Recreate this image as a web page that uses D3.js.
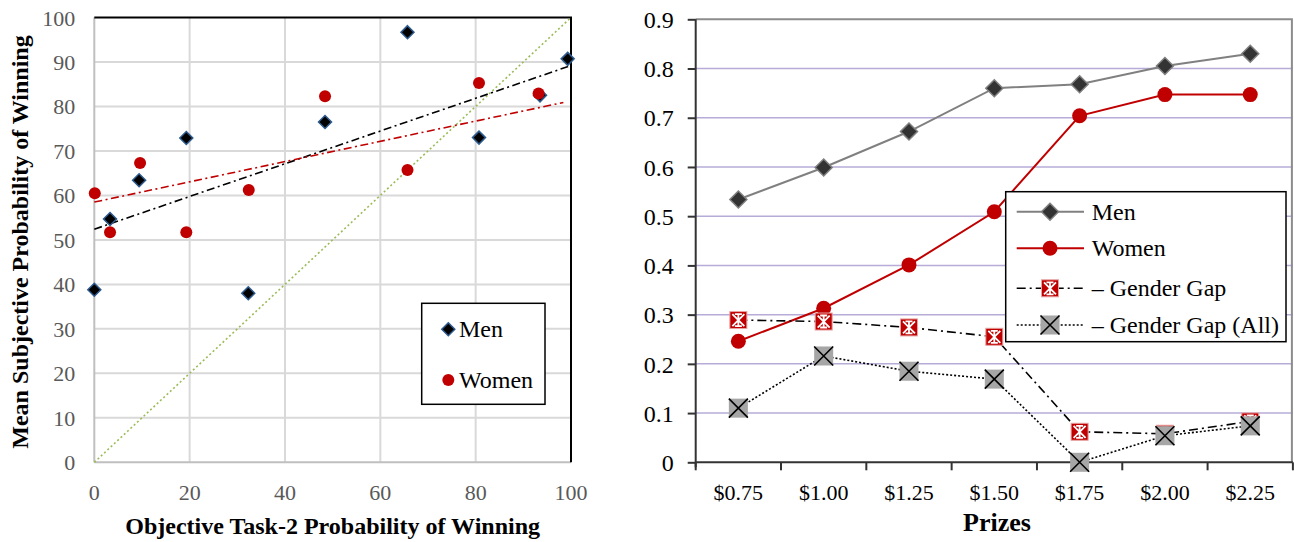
<!DOCTYPE html>
<html>
<head>
<meta charset="utf-8">
<script src="https://cdn.jsdelivr.net/npm/d3@7"></script>
<style>
  html, body { margin: 0; padding: 0; background: #fff; }
  svg text { font-family: "Liberation Serif", "Times New Roman", Times, serif; }
</style>
</head>
<body>
<svg id="chart" width="1294" height="542" font-family="Liberation Serif, Times New Roman, serif"></svg>
<script>
// ---- Left panel: subjective vs objective probability of winning ----
const leftTicks = [0, 10, 20, 30, 40, 50, 60, 70, 80, 90, 100];
const leftXTicks = [0, 20, 40, 60, 80, 100];
const menObjective = [0, 3.3, 9.4, 19.3, 32.3, 48.4, 65.7, 80.7, 93.5, 99.3];
const menSubjective = [38.8, 54.7, 63.4, 72.9, 38.0, 76.5, 96.7, 73.0, 82.5, 90.7];
const womenObjective = [0.1, 3.3, 9.6, 19.3, 32.4, 48.4, 65.7, 80.7, 93.2];
const womenSubjective = [60.5, 51.7, 67.3, 51.7, 61.2, 82.3, 65.7, 85.3, 82.9];
// linear trend lines (start / end)
const menTrendX = [0, 100];
const menTrendY = [52.4, 89.2];
const womenTrendX = [0, 98.4];
const womenTrendY = [58.5, 80.9];
const diagonalX = [0, 100];
const diagonalY = [0, 100];

// ---- Right panel: belief by prize level ----
const prizes = ["$0.75", "$1.00", "$1.25", "$1.50", "$1.75", "$2.00", "$2.25"];
const rightTicks = [0, 0.1, 0.2, 0.3, 0.4, 0.5, 0.6, 0.7, 0.8, 0.9];
const menByPrize = [0.534, 0.599, 0.672, 0.760, 0.768, 0.805, 0.830];
const womenByPrize = [0.246, 0.313, 0.401, 0.509, 0.704, 0.747, 0.747];
const gapByPrize = [0.289, 0.286, 0.274, 0.255, 0.062, 0.058, 0.083];
const gapAllByPrize = [0.110, 0.216, 0.185, 0.169, 0.000, 0.054, 0.074];

const svg = d3.select("#chart");
const RED = "#c00000";
const SERIF = "Liberation Serif, Times New Roman, serif";

// ================= LEFT PANEL =================
const L = { left: 94.3, right: 571, top: 17.5, bottom: 462.3 };
const lx = d3.scaleLinear().domain([0, 100]).range([L.left, L.right]);
const ly = d3.scaleLinear().domain([0, 100]).range([L.bottom, L.top]);
const left = svg.append("g");

// gridlines
left.append("g").selectAll("line").data(leftTicks.filter(d => d > 0 && d < 100)).join("line")
  .attr("x1", L.left).attr("x2", L.right).attr("y1", d => ly(d)).attr("y2", d => ly(d))
  .attr("stroke", "#d9d9d9").attr("stroke-width", 2);
left.append("g").selectAll("line").data(leftXTicks.filter(d => d > 0 && d < 100)).join("line")
  .attr("y1", L.top).attr("y2", L.bottom).attr("x1", d => lx(d)).attr("x2", d => lx(d))
  .attr("stroke", "#d9d9d9").attr("stroke-width", 2);
// frame: grey axes, black top/right border
left.append("line").attr("x1", L.left).attr("x2", L.left).attr("y1", L.top).attr("y2", L.bottom)
  .attr("stroke", "#bfbfbf").attr("stroke-width", 2);
left.append("line").attr("x1", L.left).attr("x2", L.right).attr("y1", L.bottom).attr("y2", L.bottom)
  .attr("stroke", "#bfbfbf").attr("stroke-width", 2);
left.append("line").attr("x1", L.left).attr("x2", L.right + 1).attr("y1", L.top).attr("y2", L.top)
  .attr("stroke", "#000").attr("stroke-width", 2);
left.append("line").attr("x1", L.right).attr("x2", L.right).attr("y1", L.top).attr("y2", L.bottom)
  .attr("stroke", "#000").attr("stroke-width", 2);

// tick labels
left.append("g").selectAll("text").data(leftTicks).join("text")
  .attr("x", L.left - 19).attr("y", d => ly(d) + 8)
  .attr("text-anchor", "end").attr("font-size", 22).attr("fill", "#595959")
  .attr("font-family", SERIF).text(d => d);
left.append("g").selectAll("text").data(leftXTicks).join("text")
  .attr("x", d => lx(d)).attr("y", 500)
  .attr("text-anchor", "middle").attr("font-size", 22).attr("fill", "#595959")
  .attr("font-family", SERIF).text(d => d);

// axis titles
left.append("text").attr("x", (L.left + L.right) / 2).attr("y", 534)
  .attr("text-anchor", "middle").attr("font-size", 24).attr("font-weight", "bold")
  .attr("font-family", SERIF).text("Objective Task-2 Probability of Winning");
left.append("text").attr("transform", "translate(28,242) rotate(-90)")
  .attr("text-anchor", "middle").attr("font-size", 24).attr("font-weight", "bold")
  .attr("font-family", SERIF).text("Mean Subjective Probability of Winning");

// 45-degree reference and trend lines
const lline = d3.line().x(d => lx(d[0])).y(d => ly(d[1]));
left.append("path").attr("d", lline(d3.zip(diagonalX, diagonalY)))
  .attr("fill", "none").attr("stroke", "#9bbb59").attr("stroke-width", 1.6).attr("stroke-dasharray", "2,2.5");
left.append("path").attr("d", lline(d3.zip(menTrendX, menTrendY)))
  .attr("fill", "none").attr("stroke", "#000").attr("stroke-width", 1.6).attr("stroke-dasharray", "8,3.5,2,3.5");
left.append("path").attr("d", lline(d3.zip(womenTrendX, womenTrendY)))
  .attr("fill", "none").attr("stroke", RED).attr("stroke-width", 1.6).attr("stroke-dasharray", "8,3.5,2,3.5");

const diamond = h => `M0,${-h}L${h},0L0,${h}L${-h},0Z`;

// markers
left.append("g").selectAll("path").data(d3.zip(menObjective, menSubjective)).join("path")
  .attr("transform", d => `translate(${lx(d[0])},${ly(d[1])})`)
  .attr("d", diamond(6.5)).attr("fill", "#000").attr("stroke", "#2e5b8f").attr("stroke-width", 1.5);
left.append("g").selectAll("circle").data(d3.zip(womenObjective, womenSubjective)).join("circle")
  .attr("cx", d => lx(d[0])).attr("cy", d => ly(d[1])).attr("r", 6).attr("fill", RED);

// legend
const lleg = left.append("g");
lleg.append("rect").attr("x", 421.7).attr("y", 303.3).attr("width", 123.3).attr("height", 101)
  .attr("fill", "#fff").attr("stroke", "#000").attr("stroke-width", 1.5);
lleg.append("path").attr("transform", "translate(448.3,329.3)").attr("d", diamond(6.5))
  .attr("fill", "#000").attr("stroke", "#2e5b8f").attr("stroke-width", 1.5);
lleg.append("text").attr("x", 459).attr("y", 337).attr("font-size", 24).attr("font-family", SERIF).text("Men");
lleg.append("circle").attr("cx", 448.3).attr("cy", 380).attr("r", 6).attr("fill", RED);
lleg.append("text").attr("x", 459).attr("y", 388).attr("font-size", 24).attr("font-family", SERIF).text("Women");

// ================= RIGHT PANEL =================
const R = { left: 695.7, right: 1292.9, top: 19.3, bottom: 462.3 };
const rx = d3.scaleBand().domain(prizes).range([R.left, R.right]);
const ry = d3.scaleLinear().domain([0, 0.9]).range([R.bottom, R.top]);
const right = svg.append("g");

right.append("g").selectAll("line").data(rightTicks.filter(d => d > 0 && d < 0.85)).join("line")
  .attr("x1", R.left).attr("x2", R.right).attr("y1", d => ry(d)).attr("y2", d => ry(d))
  .attr("stroke", "#b7acd8").attr("stroke-width", 1.5);
// plot-area border (top / right)
right.append("path")
  .attr("d", `M${R.left},${ry(0.9)}H${R.right - 1}V${R.bottom}`)
  .attr("fill", "none").attr("stroke", "#8c8c8c").attr("stroke-width", 2);

// y axis
const yAxis = d3.axisLeft(ry).tickValues(rightTicks).tickSize(8).tickPadding(14)
  .tickFormat(d => d === 0 ? "0" : d3.format(".1f")(d));
const yg = right.append("g").attr("transform", `translate(${R.left},0)`).call(yAxis)
  .attr("font-family", SERIF);
yg.select(".domain").attr("stroke", "#333").attr("stroke-width", 2).attr("d", `M0,${R.top}V${R.bottom + 5}`);
yg.selectAll(".tick line").attr("stroke", "#333").attr("stroke-width", 2);
yg.selectAll(".tick text").attr("font-size", 24).attr("fill", "#000")
  .attr("font-family", SERIF).attr("dy", "0.34em");

// x axis: tick marks on category boundaries
const xg = right.append("g");
xg.append("line").attr("x1", R.left).attr("x2", R.right).attr("y1", R.bottom).attr("y2", R.bottom)
  .attr("stroke", "#333").attr("stroke-width", 2);
const bounds = prizes.map(p => rx(p)).concat([rx(prizes[prizes.length - 1]) + rx.bandwidth()]);
xg.selectAll("line.b").data(bounds).join("line").attr("class", "b")
  .attr("x1", d => d).attr("x2", d => d).attr("y1", R.bottom).attr("y2", R.bottom + 8)
  .attr("stroke", "#333").attr("stroke-width", 2);
xg.selectAll("text").data(prizes).join("text")
  .attr("x", d => rx(d) + rx.bandwidth() / 2).attr("y", 500)
  .attr("text-anchor", "middle").attr("font-size", 22).attr("font-family", SERIF).text(d => d);
right.append("text").attr("x", 997).attr("y", 531).attr("text-anchor", "middle")
  .attr("font-size", 26).attr("font-weight", "bold").attr("font-family", SERIF).text("Prizes");

const cx = p => rx(p) + rx.bandwidth() / 2;
const rline = d3.line().x(d => cx(d[0])).y(d => ry(d[1]));

// marker painters
function menMarker(g) {
  g.append("path").attr("d", diamond(8.5)).attr("fill", "#333").attr("stroke", "#808080").attr("stroke-width", 1.5);
}
function womenMarker(g) {
  g.append("circle").attr("r", 7.5).attr("fill", RED);
}
function gapMarker(g) {
  const s = 8.5;
  g.append("rect").attr("x", -s).attr("y", -s).attr("width", 2 * s).attr("height", 2 * s)
    .attr("fill", RED).attr("stroke", "#e9a3a3").attr("stroke-width", 1);
  const a = 6;
  g.append("path").attr("d", `M${-a},${-a}L${a},${a}M${a},${-a}L${-a},${a}M0,${-a}V${a}M${-3.5},${-a}H3.5M${-3.5},${a}H3.5`)
    .attr("stroke", "#fff").attr("stroke-width", 1.8).attr("fill", "none");
}
function gapAllMarker(g) {
  const s = 9.5;
  g.append("rect").attr("x", -s).attr("y", -s).attr("width", 2 * s).attr("height", 2 * s)
    .attr("fill", "#a6a6a6");
  g.append("path").attr("d", `M${-s},${-s}L${s},${s}M${s},${-s}L${-s},${s}`)
    .attr("stroke", "#000").attr("stroke-width", 1.6);
}

const series = [
  { name: "Men", values: menByPrize, stroke: "#808080", width: 2, dash: null, marker: menMarker },
  { name: "Women", values: womenByPrize, stroke: RED, width: 2, dash: null, marker: womenMarker },
  { name: "\u2013 Gender Gap", values: gapByPrize, stroke: "#000", width: 1.6, dash: "9,4,2,4", marker: gapMarker },
  { name: "\u2013 Gender Gap (All)", values: gapAllByPrize, stroke: "#000", width: 1.6, dash: "2,2", marker: gapAllMarker }
];

series.forEach(s => {
  const pts = d3.zip(prizes, s.values);
  right.append("path").attr("d", rline(pts)).attr("fill", "none")
    .attr("stroke", s.stroke).attr("stroke-width", s.width).attr("stroke-dasharray", s.dash);
  right.append("g").selectAll("g").data(pts).join("g")
    .attr("transform", d => `translate(${cx(d[0])},${ry(d[1])})`)
    .each(function () { s.marker(d3.select(this)); });
});

// legend
const rleg = right.append("g");
rleg.append("rect").attr("x", 1005.7).attr("y", 191.7).attr("width", 280.3).attr("height", 150)
  .attr("fill", "#fff").attr("stroke", "#000").attr("stroke-width", 1.5);
const rowY = [211.7, 248.3, 288.3, 325];
series.forEach((s, i) => {
  const g = rleg.append("g").attr("transform", `translate(0,${rowY[i]})`);
  g.append("line").attr("x1", 1016.7).attr("x2", 1084).attr("y1", 0).attr("y2", 0)
    .attr("stroke", s.stroke).attr("stroke-width", s.width).attr("stroke-dasharray", s.dash);
  s.marker(g.append("g").attr("transform", "translate(1050,0)"));
  g.append("text").attr("x", 1091.7).attr("y", 8).attr("font-size", 24).attr("font-family", SERIF).text(s.name);
});
</script>
</body>
</html>
